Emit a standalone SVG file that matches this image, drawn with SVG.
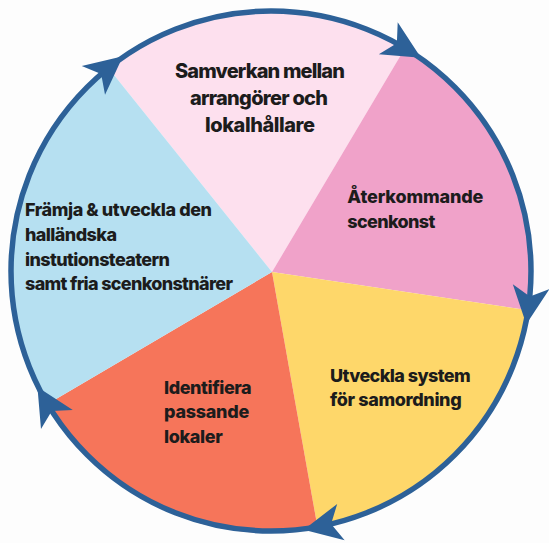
<svg xmlns="http://www.w3.org/2000/svg" width="549" height="543" viewBox="0 0 549 543">
<style>
.t{font-family:Inter,"Liberation Sans",Arial,sans-serif;font-weight:800;fill:#1c1c1c;font-size:18px}
.top{font-size:20px;text-anchor:middle}
.ring{fill:none;stroke:#2d6198;stroke-width:5.5}
.arr{fill:#2d6198}
</style>
<defs>
<polygon id="ah" points="20,0 -18,-18.5 -8,0 -18,18.5"/>
</defs>
<rect width="549" height="543" fill="#fdfdfd"/>
<g id="wedge-samverkan">
<path d="M272 272 L107.2 66.5 A262 262 0 0 1 405.9 46.4 Z" fill="#fde0ee"/>
<text class="t top" x="260" y="78.3" textLength="170">Samverkan mellan</text>
<text class="t top" x="259" y="105" textLength="138">arrangörer och</text>
<text class="t top" x="260" y="131.7" textLength="110">lokalhållare</text>
</g>
<g id="wedge-aterkommande">
<path d="M272 272 L405.9 46.4 A262 262 0 0 1 530 310.5 Z" fill="#f0a2c9"/>
<text class="t" x="347.3" y="202.7" textLength="136">Återkommande</text>
<text class="t" x="347.3" y="227.7" textLength="88">scenkonst</text>
</g>
<g id="wedge-utveckla">
<path d="M272 272 L530 310.5 A262 262 0 0 1 317.8 528.8 Z" fill="#fed76a"/>
<text class="t" x="330" y="381.7" textLength="140.7">Utveckla system</text>
<text class="t" x="330" y="406" textLength="131.7">för samordning</text>
</g>
<g id="wedge-identifiera">
<path d="M272 272 L317.8 528.8 A262 262 0 0 1 45.9 405.1 Z" fill="#f6755a"/>
<text class="t" x="164" y="394" textLength="87.7">Identifiera</text>
<text class="t" x="164" y="418.3" textLength="85.3">passande</text>
<text class="t" x="164" y="442.7" textLength="58.7">lokaler</text>
</g>
<g id="wedge-framja">
<path d="M272 272 L45.9 405.1 A262 262 0 0 1 107.2 66.5 Z" fill="#b6e0f1"/>
<text class="t" x="25" y="216" textLength="187">Främja &amp; utveckla den</text>
<text class="t" x="25" y="240.8" textLength="92">halländska</text>
<text class="t" x="25" y="265.6" textLength="145">instutionsteatern</text>
<text class="t" x="25" y="290.4" textLength="208">samt fria scenkonstnärer</text>
</g>
<g id="connectors">
<circle class="ring" cx="271" cy="271" r="260"/>
<use href="#ah" class="arr" transform="translate(271 271) rotate(-59.3) translate(260 0) rotate(90)"/>
<use href="#ah" class="arr" transform="translate(271 271) rotate(7.4) translate(260 0) rotate(90)"/>
<use href="#ah" class="arr" transform="translate(271 271) rotate(78.4) translate(260 0) rotate(90)"/>
<use href="#ah" class="arr" transform="translate(271 271) rotate(149.2) translate(260 0) rotate(90)"/>
<use href="#ah" class="arr" transform="translate(271 271) rotate(-129) translate(260 0) rotate(90)"/>
</g>
</svg>
